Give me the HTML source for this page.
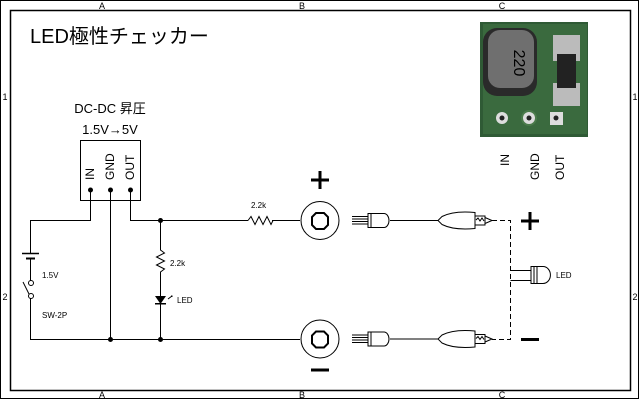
<!DOCTYPE html>
<html><head><meta charset="utf-8"><style>
html,body{margin:0;padding:0;background:#fff}
svg{display:block}
text{font-family:"Liberation Sans","Noto Sans CJK JP",sans-serif;fill:#000}
</style></head><body>
<svg width="640" height="400" viewBox="0 0 640 400" xmlns="http://www.w3.org/2000/svg">
<rect x="0.5" y="0.5" width="638" height="398" fill="none" stroke="#000"/>
<rect x="10.5" y="10.5" width="620" height="380" fill="none" stroke="#000" stroke-width="1.5"/>
<g font-size="9" text-anchor="middle">
<text x="102" y="9">A</text><text x="302" y="9">B</text><text x="502" y="9">C</text>
<text x="102" y="398">A</text><text x="302" y="398">B</text><text x="502" y="398">C</text>
<text x="5" y="100">1</text><text x="5" y="300">2</text>
<text x="635" y="100">1</text><text x="635" y="300">2</text>
</g>
<text x="30" y="43" font-size="20">LED極性チェッカー</text>
<text x="110" y="113" font-size="13" text-anchor="middle">DC-DC 昇圧</text>
<text x="110" y="134" font-size="13" text-anchor="middle">1.5V→5V</text>
<rect x="80.5" y="140.5" width="60" height="60" fill="#fff" stroke="#000"/>
<g font-size="12">
<text transform="translate(94,180) rotate(-90)">IN</text>
<text transform="translate(114,180) rotate(-90)">GND</text>
<text transform="translate(134,180) rotate(-90)">OUT</text>
</g>
<g fill="none" stroke="#000" stroke-width="1">
<path d="M90.5 190V220.5H30.5V253M30.5 258V283M30.5 297V339.5H300"/>
<path d="M110.5 190V339.5"/>
<path d="M130.5 190V220.5H248M272 220.5H300"/>
<path d="M160.5 220.5V250l4 3-8 4 8 4-8 4 8 4-4 3V296M160.5 304V339.5"/>
<path d="M248 220.5l3 -4 4 8 4 -8 4 8 4 -8 4 8 2 -4"/>
<path d="M22 253.5H39" stroke-width="1.5"/>
<path d="M26 258.5H35" stroke-width="2"/>
<path d="M23 282L29 294"/>
<circle cx="31" cy="283" r="2.5" fill="#fff"/><circle cx="31" cy="296" r="2.5" fill="#fff"/>
</g>
<g fill="#000">
<circle cx="90.5" cy="190" r="2.5"/><circle cx="110.5" cy="190" r="2.5"/><circle cx="130.5" cy="190" r="2.5"/>
<circle cx="160.5" cy="220.5" r="2.5"/><circle cx="110.5" cy="339.5" r="2.5"/><circle cx="160.5" cy="339.5" r="2.5"/>
<path d="M155 296H166L160.5 304Z"/><rect x="155" y="303" width="11" height="1.5"/>
</g>
<path d="M168 299l4-3m-1 0h1v1" stroke="#000" fill="none"/>
<g font-size="8">
<text x="42" y="278">1.5V</text><text x="42" y="318">SW-2P</text>
<text x="170" y="266">2.2k</text><text x="177" y="303">LED</text>
<text x="251" y="208">2.2k</text>
<text x="556" y="278">LED</text>
</g>
<g id="row" fill="none" stroke="#000">
<circle cx="320" cy="220.5" r="19"/>
<path d="M316 213h8l4 4v8l-4 4h-8l-4-4v-8z" stroke-width="2"/>
<path d="M352 216.5h16M352 219h16M352 221.5h16M352 224h16" stroke-width="1"/>
<path d="M368 213.5h16a5 7 0 0 1 0 14h-16zM371 214v13"/>
<path d="M390 220.5H438M438 220.5l4-4q12-6 33-4v16q-21 2-33-4z"/>
<path d="M475 216h10v9h-10zM485 217.5l7 3-7 3M476 220l2-2 2 3 2-3 2 3"/>
</g>
<use href="#row" y="118.5"/>
<path d="M492 220.5H510.5V339.5H492" fill="none" stroke="#000" stroke-dasharray="5,3"/>
<g fill="none" stroke="#000">
<path d="M510.5 270.5H531M510.5 280.5H531"/>
<path d="M531 266.5h12a7 8 0 0 1 0 17h-12zM534 266v18M537 266v18"/>
</g>
<path d="M320 171v18M311 180h18" stroke="#000" stroke-width="3"/>
<path d="M311 370h18" stroke="#000" stroke-width="3"/>
<path d="M530 212v18M521 221h18" stroke="#000" stroke-width="3"/>
<path d="M521 339.5h18" stroke="#000" stroke-width="3"/>
<!-- photo -->
<rect x="480" y="22" width="108" height="115" fill="#2f5a35"/>
<rect x="483" y="24" width="104" height="110" fill="#3a6a3e"/>
<rect x="483" y="28" width="54" height="68" rx="14" fill="#2a2a2a"/>
<rect x="488" y="30" width="46" height="58" rx="12" fill="#6f6f6f"/>
<text transform="translate(514,63) rotate(90)" font-size="16" text-anchor="middle" fill="#333">220</text>
<rect x="553" y="35" width="27" height="26" fill="#bbb"/>
<rect x="553" y="83" width="27" height="23" fill="#bbb"/>
<rect x="557" y="54" width="19" height="34" fill="#222"/>
<circle cx="502" cy="118" r="6" fill="#ddd"/><circle cx="502" cy="118" r="2.5" fill="#222"/>
<circle cx="529" cy="118" r="8" fill="#4a7a4a"/><circle cx="529" cy="118" r="6" fill="#ddd"/><circle cx="529" cy="118" r="2.5" fill="#222"/>
<rect x="550" y="112" width="13" height="13" fill="#ddd"/><circle cx="556" cy="118" r="2.5" fill="#222"/>
<g font-size="12">
<text transform="translate(509,166) rotate(-90)">IN</text>
<text transform="translate(539,180) rotate(-90)">GND</text>
<text transform="translate(564,180) rotate(-90)">OUT</text>
</g>
</svg>
</body></html>
